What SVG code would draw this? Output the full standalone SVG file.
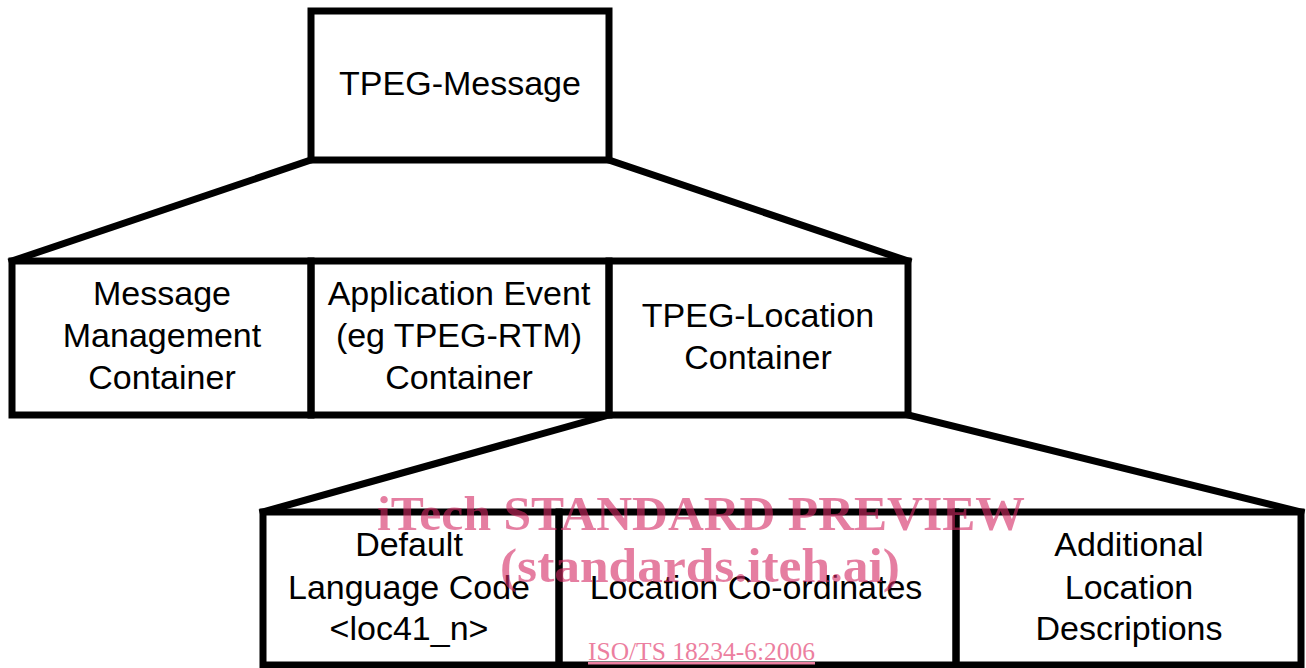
<svg xmlns="http://www.w3.org/2000/svg" width="1306" height="668" viewBox="0 0 1306 668">
<style>
.box{fill:none;stroke:#000;stroke-width:7;stroke-linejoin:miter}
.ln{fill:none;stroke:#000;stroke-width:7;stroke-linecap:square}
.t{font-family:"Liberation Sans",Arial,sans-serif;font-size:34px;fill:#000;text-anchor:middle}
.wm{font-family:"Liberation Serif","Times New Roman",serif;font-weight:bold;fill:#d42a64;opacity:0.6}
.iso{font-family:"Liberation Serif","Times New Roman",serif;font-size:25px;fill:#ec7fa0;text-decoration:underline}
</style>
<rect width="1306" height="668" fill="#fff"/>
<g id="connectors">
<line class="ln" x1="311" y1="160" x2="12" y2="261"/>
<line class="ln" x1="609" y1="160" x2="908" y2="261"/>
<line class="ln" x1="609" y1="415" x2="263" y2="512"/>
<line class="ln" x1="908" y1="415" x2="1301" y2="512"/>
</g>
<g id="tpeg-message">
<rect class="box" x="311" y="11" width="298" height="149"/>
<text class="t" x="460" y="95">TPEG-Message</text>
</g>
<g id="message-management">
<rect class="box" x="12" y="261" width="299" height="154"/>
<text class="t" x="162" y="305">Message</text>
<text class="t" x="162" y="347">Management</text>
<text class="t" x="162" y="389">Container</text>
</g>
<g id="application-event">
<rect class="box" x="311" y="261" width="298" height="154"/>
<text class="t" x="459" y="305">Application Event</text>
<text class="t" x="459" y="347">(eg TPEG-RTM)</text>
<text class="t" x="459" y="389">Container</text>
</g>
<g id="location-container">
<rect class="box" x="609" y="261" width="299" height="154"/>
<text class="t" x="758" y="327">TPEG-Location</text>
<text class="t" x="758" y="369">Container</text>
</g>
<g id="default-language">
<rect class="box" x="263" y="512" width="296" height="153"/>
<text class="t" x="409" y="556">Default</text>
<text class="t" x="409" y="599">Language Code</text>
<text class="t" x="409" y="640">&lt;loc41_n&gt;</text>
</g>
<g id="location-coordinates">
<rect class="box" x="559" y="512" width="397" height="153"/>
<text class="t" x="756" y="599">Location Co-ordinates</text>
</g>
<g id="additional-descriptions">
<rect class="box" x="956" y="512" width="345" height="153"/>
<text class="t" x="1129" y="556">Additional</text>
<text class="t" x="1129" y="599">Location</text>
<text class="t" x="1129" y="640">Descriptions</text>
</g>
<g id="watermark">
<text class="wm" x="377" y="530" font-size="49" textLength="648" lengthAdjust="spacingAndGlyphs">iTech STANDARD PREVIEW</text>
<text class="wm" x="500" y="582" font-size="49" textLength="400" lengthAdjust="spacingAndGlyphs">(standards.iteh.ai)</text>
<text class="iso" x="588" y="660" textLength="227" lengthAdjust="spacingAndGlyphs">ISO/TS 18234-6:2006</text>
</g>
</svg>
